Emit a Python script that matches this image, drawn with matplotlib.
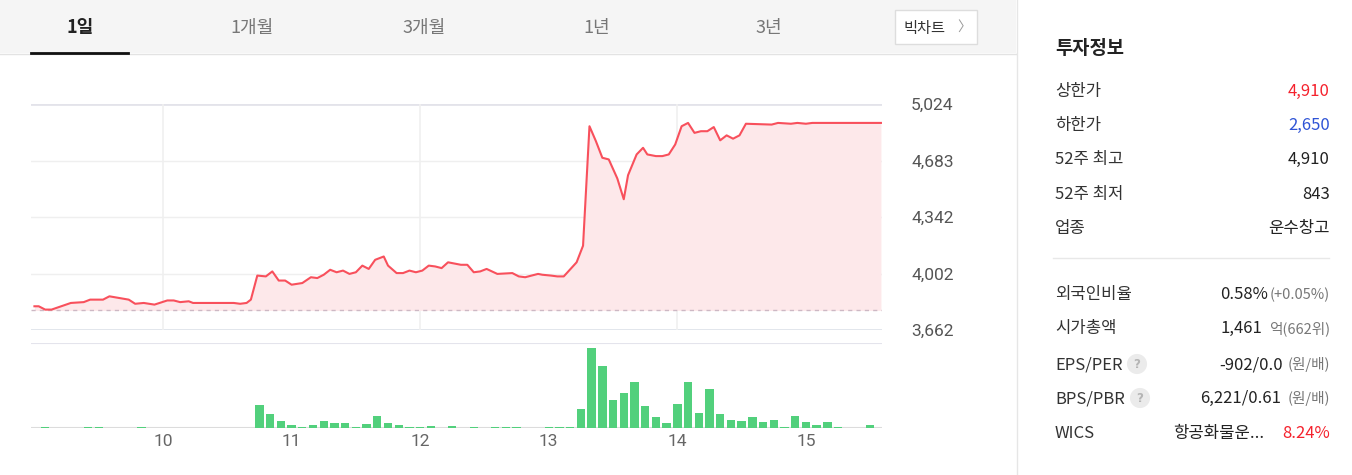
import matplotlib
matplotlib.use("Agg")
import matplotlib.pyplot as plt
from matplotlib.patches import Rectangle
from matplotlib.lines import Line2D

plt.rcParams['font.family'] = ['Noto Sans CJK KR', 'DejaVu Sans']

# ---- data ----
# minutes after 09:00 and traded price (KRW)
price_min = [0, 2, 5, 8, 17, 23, 26, 32, 35, 44, 47, 51, 56, 62, 65, 68, 72, 74,
             93, 96, 99, 101, 104, 108, 111, 114, 117, 120, 125, 129, 132, 135,
             138, 141, 144, 147, 150, 153, 156, 159, 163, 165, 169, 172, 175, 178,
             181, 184, 187, 190, 193, 199, 202, 205, 208, 211, 216, 223, 226, 229,
             235, 237, 241, 244, 247, 253, 256, 259, 262, 265, 268, 272, 275, 277,
             281, 284, 286, 290, 293, 296, 299, 302, 305, 308, 311, 314, 317, 320,
             323, 326, 329, 332, 344, 347, 353, 356, 360, 363, 395]
price_val = [3805, 3805, 3785, 3785, 3825, 3830, 3845, 3845, 3865, 3845, 3820, 3825,
             3815, 3840, 3840, 3830, 3835, 3825, 3825, 3820, 3825, 3845, 3990, 3985,
             4015, 3960, 3960, 3935, 3945, 3980, 3975, 3995, 4025, 4010, 4020, 4000,
             4010, 4050, 4030, 4085, 4105, 4050, 4005, 4005, 4020, 4010, 4020, 4050,
             4045, 4035, 4070, 4055, 4055, 4010, 4015, 4030, 4000, 4005, 3985, 3980,
             4000, 3995, 3990, 3985, 3985, 4070, 4170, 4890, 4800, 4700, 4690, 4575,
             4450, 4595, 4720, 4760, 4720, 4710, 4710, 4720, 4780, 4890, 4910, 4850,
             4860, 4860, 4885, 4805, 4835, 4815, 4835, 4905, 4900, 4910, 4905, 4910,
             4905, 4910, 4910]
prev_close = 3780

# 5-minute volume bars (relative units)
vol_min = [5, 25, 30, 50, 105, 110, 115, 120, 125, 130, 135, 140, 145, 150, 155,
           160, 165, 170, 175, 180, 185, 195, 205, 215, 220, 225, 240, 245, 250,
           255, 260, 265, 270, 275, 280, 285, 290, 295, 300, 305, 310, 315, 320,
           325, 330, 335, 340, 345, 350, 355, 360, 365, 370, 375, 390]
vol_val = [8, 6, 6, 6, 227, 140, 67, 27, 10, 27, 74, 50, 50, 10, 40,
           120, 47, 34, 14, 14, 24, 24, 15, 12, 10, 10, 7, 7, 7,
           190, 800, 624, 277, 350, 464, 217, 114, 50, 244, 457, 147, 394, 144,
           84, 67, 114, 60, 77, 10, 124, 60, 27, 64, 14, 34]

y_ticks = [3662, 4002, 4342, 4683, 5024]
x_tick_min = [60, 120, 180, 240, 300, 360]
x_tick_lab = ["10", "11", "12", "13", "14", "15"]

tabs = ["1일", "1개월", "3개월", "1년", "3년"]
tab_x = [80, 252, 424, 597, 769]

info1_lab = ["상한가", "하한가", "52주 최고", "52주 최저", "업종"]
info1_val = ["4,910", "2,650", "4,910", "843", "운수창고"]
info1_col = ["#f5222d", "#2f54d6", "#222222", "#222222", "#222222"]

info2_lab = ["외국인비율", "시가총액", "EPS/PER", "BPS/PBR", "WICS"]
info2_val = ["0.58%", "1,461", "-902/0.0", "6,221/0.61", "항공화물운..."]
info2_sub = ["(+0.05%)", "억(662위)", "(원/배)", "(원/배)", "8.24%"]

# ---- figure ----
W, H = 1352, 475
fig = plt.figure(figsize=(W / 100, H / 100), dpi=100)
fig.patch.set_facecolor("white")


def fx(x):
	return x / W


def fy(y):
	return 1 - y / H


tf = fig.transFigure

# tab bar
fig.patches.append(Rectangle((0, fy(53)), fx(1016), 53 / H, transform=tf,
	facecolor="#f5f5f5", edgecolor="none", zorder=0))
fig.lines.append(Line2D([0, fx(1016)], [fy(53.5)] * 2, transform=tf, color="#e3e3e3", lw=1))
fig.lines.append(Line2D([fx(31), fx(128)], [fy(52.5)] * 2, transform=tf, color="#111111", lw=2))
for i, (lab, x) in enumerate(zip(tabs, tab_x)):
	fig.text(fx(x), fy(28), lab, ha="center", va="center", fontsize=13,
		color="#222222" if i == 0 else "#777777", weight="bold" if i == 0 else "normal")
fig.patches.append(Rectangle((fx(895), fy(44)), 82 / W, 34 / H, transform=tf,
	facecolor="white", edgecolor="#dddddd", lw=1, zorder=1))
fig.text(fx(924), fy(28), "빅차트", ha="center", va="center", fontsize=11, color="#333333")
fig.text(fx(964), fy(27), "〉", ha="center", va="center", fontsize=10, color="#999999")

# right panel border
fig.lines.append(Line2D([fx(1016.5)] * 2, [0, 1], transform=tf, color="#e6e6e6", lw=1))

# ---- price panel ----
ax = fig.add_axes([fx(31), fy(330), fx(882) - fx(31), (330 - 104) / H])
ax.set_xlim(-1.6, 395.5)
ax.set_ylim(3662, 5024)
for s in ax.spines.values():
	s.set_visible(False)
for v in y_ticks[1:4]:
	ax.axhline(v, color="#efefef", lw=1, zorder=0)
ax.axhline(5024, color="#e3e3ea", lw=2, zorder=0)
ax.axhline(3662, color="#dfe3ea", lw=2, zorder=0)
for m in [60, 180, 300]:
	ax.axvline(m, color="#f0f0f0", lw=1.2, zorder=0)
ax.fill_between(price_min, price_val, prev_close, color="#fde8ea", lw=0, zorder=1)
ax.axhline(prev_close, color="#cdb8c4", lw=1, ls=(0, (3, 3)), zorder=2)
ax.plot(price_min, price_val, color="#f8505c", lw=1.5, zorder=3)
ax.set_xticks([])
ax.yaxis.tick_right()
ax.set_yticks(y_ticks)
ax.set_yticklabels([f"{v:,}" for v in y_ticks], family="Roboto", fontsize=12.5, color="#555555")
ax.tick_params(axis="y", length=0, pad=21)

# ---- volume panel ----
axv = fig.add_axes([fx(31), fy(428), fx(882) - fx(31), (428 - 343) / H])
axv.set_xlim(-1.6, 395.5)
axv.set_ylim(0, 850)
for s in axv.spines.values():
	s.set_visible(False)
axv.axhline(850, color="#e4e4ec", lw=1.5, zorder=0)
axv.bar(vol_min, vol_val, width=3.9, color="#52d07c", lw=0, zorder=2)
axv.axhline(0, color="#dcdcdc", lw=1.5, zorder=1)
axv.set_yticks([])
axv.set_xticks(x_tick_min)
axv.set_xticklabels(x_tick_lab, family="Roboto", fontsize=12.5, color="#666666")
axv.tick_params(axis="x", length=0, pad=4)

# ---- investment info ----
fig.text(fx(1055), fy(49), "투자정보", ha="left", va="center", fontsize=13.5,
	weight="bold", color="#222222")
row1_y = [91.5, 125.5, 159.5, 194.5, 228.5]
for lab, val, col, y in zip(info1_lab, info1_val, info1_col, row1_y):
	fig.text(fx(1055), fy(y), lab, ha="left", va="center", fontsize=12, color="#333333")
	fig.text(fx(1330), fy(y), val, ha="right", va="center", fontsize=12, color=col)

fig.lines.append(Line2D([fx(1053), fx(1329)], [fy(257.5)] * 2, transform=tf, color="#e8e8e8", lw=1))

row2_y = [294.5, 328.5, 364.5, 398.5, 433.5]
val_right = [1268, 1262, 1283, 1281, 1264]
for i, (lab, val, sub, y, xr) in enumerate(zip(info2_lab, info2_val, info2_sub, row2_y, val_right)):
	fig.text(fx(1055), fy(y), lab, ha="left", va="center", fontsize=12, color="#333333")
	fig.text(fx(xr), fy(y), val, ha="right", va="center", fontsize=12, color="#222222")
	if i == 4:
		fig.text(fx(1330), fy(y), sub, ha="right", va="center", fontsize=12, color="#f5222d")
	else:
		fig.text(fx(1330), fy(y), sub, ha="right", va="center", fontsize=10.5, color="#777777")

for cx, cy in [(1137, 364), (1140, 398)]:
	fig.text(fx(cx), fy(cy), "?", ha="center", va="center", fontsize=8.5,
		color="#b5b5b5", weight="bold", family="DejaVu Sans",
		bbox=dict(boxstyle="circle,pad=0.3", facecolor="#ebebeb", edgecolor="none"))

fig.savefig("out.png", dpi=100)
